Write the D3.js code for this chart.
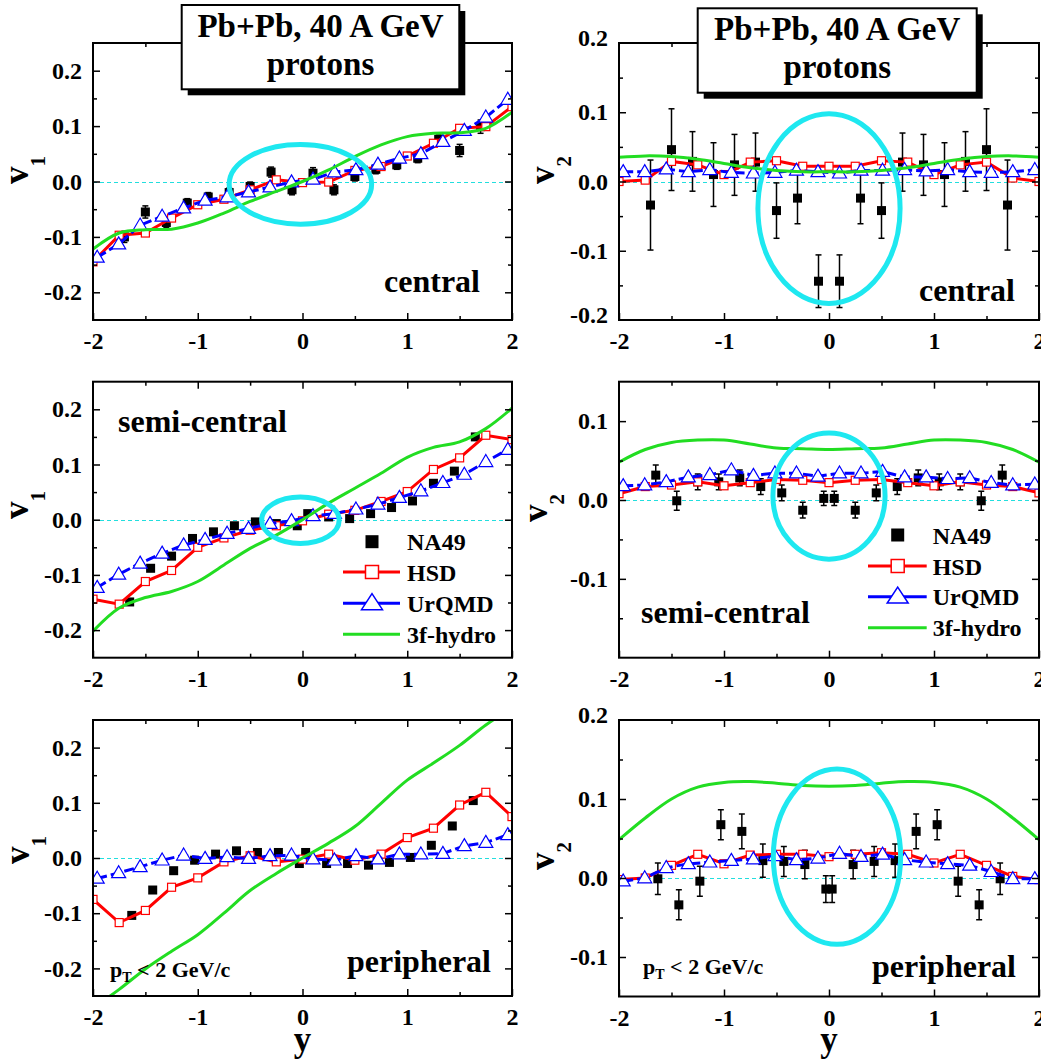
<!DOCTYPE html>
<html><head><meta charset="utf-8">
<script src="https://cdn.jsdelivr.net/npm/d3@7"></script>
<style>
body{margin:0;background:#fff}
svg{display:block}
text{font-family:"Liberation Serif","Times New Roman",serif;font-weight:bold;fill:#000}
</style>
</head><body>
<svg id="c" width="1041" height="1060"></svg>
<script>
// ---------------- data ----------------
const hsdY   = [-2,-1.75,-1.5,-1.25,-1,-0.75,-0.5,-0.25,0,0.25,0.5,0.75,1,1.25,1.5,1.75,2];
const hydroY = [-2,-1.75,-1.5,-1.25,-1,-0.75,-0.5,-0.25,0,0.25,0.5,0.75,1,1.25,1.5,1.75,2];
const urqmdY = [-1.96,-1.755,-1.55,-1.34,-1.135,-0.93,-0.72,-0.515,-0.31,-0.105,0.1,0.305,0.51,0.72,0.925,1.13,1.34,1.545,1.75,1.96];
const na49Y_central = [-1.7,-1.5,-1.3,-1.1,-0.9,-0.7,-0.5,-0.3,-0.1,0.1,0.3,0.5,0.7,0.9,1.1,1.3,1.5,1.7];
const na49Y_semi    = [-1.65,-1.45,-1.25,-1.05,-0.85,-0.65,-0.45,-0.25,-0.05,0.05,0.25,0.45,0.65,0.85,1.05,1.25,1.45,1.65];
const na49Y_peri    = [-1.63,-1.43,-1.23,-1.03,-0.83,-0.63,-0.43,-0.23,-0.03,0.03,0.23,0.43,0.63,0.83,1.03,1.23,1.43,1.63];

// central v1
const na49V1_central  = [-0.100,-0.055,-0.074,-0.039,-0.028,-0.020,-0.009,0.017,-0.015,0.015,-0.015,0.009,0.022,0.030,0.042,0.076,0.056,0.099];
const na49E1_central  = [0.010,0.011,0.009,0.008,0.008,0.008,0.008,0.009,0.009,0.010,0.009,0.008,0.008,0.008,0.008,0.008,0.011,0.012];
const hsdV1_central   = [-0.145,-0.097,-0.093,-0.066,-0.042,-0.032,-0.015,0.003,-0.002,-0.001,0.020,0.027,0.046,0.069,0.096,0.099,0.135];
const urqmdV1_central = [-0.137,-0.113,-0.079,-0.063,-0.048,-0.034,-0.028,-0.019,-0.010,-0.001,0.004,0.017,0.021,0.031,0.042,0.050,0.072,0.092,0.116,0.148];
const hydroV1_central = [-0.122,-0.093,-0.087,-0.086,-0.075,-0.057,-0.036,-0.018,0.0,0.021,0.045,0.066,0.081,0.087,0.088,0.096,0.125];
// central v2
const na49V2_central  = [-0.034,0.046,0.029,0.010,0.024,0.028,-0.042,-0.024,-0.144,-0.144,-0.024,-0.042,0.028,0.024,0.010,0.029,0.046,-0.034];
const na49E2_central  = [0.065,0.059,0.043,0.046,0.044,0.042,0.040,0.037,0.038,0.038,0.037,0.040,0.042,0.044,0.046,0.043,0.059,0.065];
const hsdV2_central   = [0.0,0.002,0.029,0.024,0.010,0.028,0.030,0.022,0.022,0.022,0.030,0.028,0.010,0.024,0.028,0.005,0.0];
const urqmdV2_central = [0.014,0.014,0.018,0.014,0.017,0.013,0.012,0.013,0.016,0.014,0.012,0.016,0.016,0.017,0.015,0.017,0.014,0.013,0.014,0.017];
const hydroV2_central = [0.035,0.037,0.036,0.032,0.026,0.020,0.016,0.014,0.014,0.014,0.016,0.020,0.026,0.032,0.036,0.037,0.035];
// semi-central v1
const na49V1_semi  = [-0.149,-0.088,-0.066,-0.034,-0.022,-0.011,-0.004,-0.007,-0.011,0.011,0.005,0.002,0.011,0.022,0.034,0.066,0.088,0.150];
const na49E1_semi  = [0.004,0.004,0.004,0.004,0.004,0.004,0.004,0.004,0.004,0.004,0.004,0.004,0.004,0.004,0.004,0.004,0.004,0.004];
const hsdV1_semi   = [-0.144,-0.153,-0.112,-0.092,-0.050,-0.033,-0.019,-0.011,-0.002,0.010,0.017,0.033,0.051,0.091,0.112,0.153,0.145];
const urqmdV1_semi = [-0.123,-0.099,-0.079,-0.061,-0.046,-0.036,-0.025,-0.016,-0.007,-0.002,0.007,0.011,0.019,0.028,0.040,0.052,0.067,0.082,0.105,0.127];
const hydroV1_semi = [-0.202,-0.160,-0.141,-0.130,-0.112,-0.082,-0.052,-0.028,0.0,0.030,0.057,0.084,0.113,0.131,0.141,0.165,0.202];
// semi-central v2
const na49V2_semi  = [0.0315,-0.001,0.023,0.023,0.028,0.017,0.009,-0.013,0.002,0.002,-0.013,0.009,0.017,0.028,0.023,0.023,-0.001,0.0315];
const na49E2_semi  = [0.013,0.012,0.010,0.010,0.010,0.010,0.010,0.010,0.009,0.009,0.010,0.010,0.010,0.010,0.010,0.010,0.012,0.013];
const hsdV2_semi   = [0.008,0.017,0.019,0.023,0.018,0.022,0.026,0.025,0.022,0.025,0.026,0.022,0.018,0.023,0.019,0.017,0.009];
const urqmdV2_semi = [0.018,0.019,0.023,0.029,0.032,0.038,0.031,0.034,0.034,0.030,0.034,0.034,0.036,0.029,0.029,0.027,0.028,0.022,0.019,0.020];
const hydroV2_semi = [0.048,0.064,0.073,0.076,0.076,0.071,0.066,0.065,0.064,0.065,0.066,0.071,0.076,0.076,0.073,0.064,0.048];
// peripheral v1
const na49V1_peri  = [-0.104,-0.058,-0.023,-0.004,0.007,0.013,0.010,0.010,-0.010,0.010,-0.010,-0.010,-0.013,-0.008,0.001,0.023,0.058,0.104];
const na49E1_peri  = [0.004,0.004,0.004,0.004,0.004,0.004,0.004,0.004,0.004,0.004,0.004,0.004,0.004,0.004,0.004,0.004,0.004,0.004];
const hsdV1_peri   = [-0.075,-0.117,-0.095,-0.053,-0.036,-0.007,0.004,-0.007,-0.002,0.007,-0.004,0.007,0.037,0.054,0.096,0.119,0.075];
const urqmdV1_peri = [-0.037,-0.027,-0.016,-0.004,0.005,-0.001,0.002,-0.001,0.004,0.005,-0.002,-0.004,0.004,-0.002,0.007,0.007,0.008,0.022,0.028,0.042];
const hydroV1_peri = [-0.272,-0.238,-0.201,-0.169,-0.139,-0.100,-0.059,-0.028,0.0,0.027,0.057,0.099,0.141,0.172,0.204,0.241,0.272];
// peripheral v2
const na49V2_peri  = [-0.001,-0.034,-0.004,0.0675,0.059,0.022,0.021,0.017,-0.014,-0.014,0.017,0.021,0.022,0.059,0.0675,-0.004,-0.034,-0.001];
const na49E2_peri  = [0.020,0.019,0.019,0.019,0.022,0.021,0.019,0.018,0.017,0.017,0.018,0.019,0.021,0.022,0.019,0.019,0.019,0.020];
const hsdV2_peri   = [-0.002,0.0,0.016,0.030,0.018,0.029,0.030,0.030,0.027,0.030,0.032,0.030,0.019,0.030,0.016,0.002,-0.002];
const urqmdV2_peri = [-0.004,0.0,0.013,0.018,0.020,0.022,0.024,0.028,0.023,0.025,0.031,0.027,0.030,0.023,0.020,0.018,0.016,0.008,-0.001,-0.001];
const hydroV2_peri = [0.0485,0.076,0.100,0.115,0.121,0.122,0.120,0.117,0.116,0.117,0.120,0.122,0.121,0.115,0.100,0.076,0.0485];

// highlight ellipses [centre y, centre v, half-width in y, half-height in v]
const ellV1_central = [-0.02,-0.005,0.68,0.072];
const ellV2_central = [0.0,-0.039,0.677,0.137];
const ellV1_semi    = [-0.02,-0.001,0.37,0.042];
const ellV2_semi    = [0.0,0.005,0.534,0.080];
const ellV2_peri    = [0.076,0.027,0.606,0.111];

const xTicks = [-2,-1,0,1,2];
const xMinor = [-1.5,-0.5,0.5,1.5];
const legendNames = ["NA49","HSD","UrQMD","3f-hydro"];

// ---------------- drawing ----------------
const svg = d3.select('#c');
const RED = '#ff0000', BLUE = '#0000ff', GREEN = '#22dd22', CYAN = '#1ee8f0';

const panels = [
  {x0:93,x1:512,y0:43,y1:320,dom:[-0.25,0.25],lab:[-0.2,-0.1,0,0.1,0.2],
   naX:na49Y_central,naV:na49V1_central,naE:na49E1_central,hsd:hsdV1_central,urq:urqmdV1_central,hyd:hydroV1_central,ell:ellV1_central,
   sub:'1',tx:28,ty:170},
  {x0:619,x1:1039,y0:43,y1:320,dom:[-0.2,0.2],lab:[-0.2,-0.1,0,0.1,0.2],
   naX:na49Y_central,naV:na49V2_central,naE:na49E2_central,hsd:hsdV2_central,urq:urqmdV2_central,hyd:hydroV2_central,ell:ellV2_central,
   sub:'2',tx:554,ty:170,edgeShift:true},
  {x0:93,x1:512,y0:381.7,y1:657.7,dom:[-0.25,0.25],lab:[-0.2,-0.1,0,0.1,0.2],
   naX:na49Y_semi,naV:na49V1_semi,naE:na49E1_semi,hsd:hsdV1_semi,urq:urqmdV1_semi,hyd:hydroV1_semi,ell:ellV1_semi,
   sub:'1',tx:28,ty:505,legend:{x0:343,x1:400,xm:372,xt:407,rows:[541.7,572,603.3,634.3]}},
  {x0:619,x1:1039,y0:381.7,y1:657.7,dom:[-0.2,0.15],lab:[-0.1,0,0.1],
   naX:na49Y_semi,naV:na49V2_semi,naE:na49E2_semi,hsd:hsdV2_semi,urq:urqmdV2_semi,hyd:hydroV2_semi,ell:ellV2_semi,
   sub:'2',tx:547,ty:508,legend:{x0:868,x1:926.7,xm:897.7,xt:932.7,rows:[535,566,596.7,627.7]}},
  {x0:93,x1:512,y0:720,y1:996,dom:[-0.25,0.25],lab:[-0.2,-0.1,0,0.1,0.2],
   naX:na49Y_peri,naV:na49V1_peri,naE:na49E1_peri,hsd:hsdV1_peri,urq:urqmdV1_peri,hyd:hydroV1_peri,ell:null,
   sub:'1',tx:29,ty:850,yTitle:true},
  {x0:619,x1:1039,y0:720,y1:996.5,dom:[-0.15,0.2],lab:[-0.1,0,0.1,0.2],
   naX:na49Y_peri,naV:na49V2_peri,naE:na49E2_peri,hsd:hsdV2_peri,urq:urqmdV2_peri,hyd:hydroV2_peri,ell:ellV2_peri,
   sub:'2',tx:554,ty:856,yTitle:true,edgeShift:true}
];

const triPath = (w,h) => `M0,${-h*0.6}L${w/2},${h*0.4}L${-w/2},${h*0.4}Z`;
const FONT = '"Liberation Serif","Times New Roman",serif';

panels.forEach((p,i) => {
  const x = d3.scaleLinear().domain([-2,2]).range([p.x0,p.x1]);
  const y = d3.scaleLinear().domain(p.dom).range([p.y1,p.y0]);
  const g = svg.append('g');
  const clipId = 'clip'+i;
  svg.append('clipPath').attr('id',clipId).append('rect')
    .attr('x',p.x0).attr('y',p.y0).attr('width',p.x1-p.x0).attr('height',p.y1-p.y0);
  const pg = g.append('g').attr('clip-path',`url(#${clipId})`);

  // zero line
  const y0px = Math.round(y(0)) + 0.5;
  pg.append('line').attr('x1',x(-2)).attr('x2',x(2)).attr('y1',y0px).attr('y2',y0px)
    .attr('stroke','#22dede').attr('stroke-width',1).attr('stroke-dasharray','4,3');

  // NA49
  const na = p.naX.map((v,k)=>({x:v,v:p.naV[k],e:p.naE[k]}));
  const eg = pg.append('g');
  na.forEach(d=>{
    eg.append('line').attr('x1',x(d.x)).attr('x2',x(d.x)).attr('y1',y(d.v-d.e)).attr('y2',y(d.v+d.e))
      .attr('stroke','#000').attr('stroke-width',1.5);
    [d.v-d.e,d.v+d.e].forEach(vv=>eg.append('line').attr('x1',x(d.x)-3).attr('x2',x(d.x)+3)
      .attr('y1',y(vv)).attr('y2',y(vv)).attr('stroke','#000').attr('stroke-width',1.5));
  });
  pg.selectAll('rect.na').data(na).join('rect').attr('class','na')
    .attr('x',d=>x(d.x)-4.5).attr('y',d=>y(d.v)-4.5).attr('width',9).attr('height',9).attr('fill','#000');

  // HSD
  const hs = hsdY.map((v,k)=>({x:v,v:p.hsd[k]}));
  pg.append('path').datum(hs).attr('fill','none').attr('stroke',RED).attr('stroke-width',3)
    .attr('d',d3.line().x(d=>x(d.x)).y(d=>y(d.v)));
  pg.selectAll('rect.hsd').data(hs).join('rect').attr('class','hsd')
    .attr('x',d=>x(d.x)-4).attr('y',d=>y(d.v)-4).attr('width',8).attr('height',8)
    .attr('fill','#fff').attr('stroke',RED).attr('stroke-width',1.2);

  // UrQMD
  const uq = urqmdY.map((v,k)=>({x:v,v:p.urq[k]}));
  pg.append('path').datum(uq).attr('fill','none').attr('stroke',BLUE).attr('stroke-width',3)
    .attr('stroke-dasharray','10,4').attr('d',d3.line().x(d=>x(d.x)).y(d=>y(d.v)));
  pg.selectAll('path.uq').data(uq).join('path').attr('class','uq')
    .attr('transform',d=>`translate(${x(d.x)},${y(d.v)})`).attr('d',triPath(14,12))
    .attr('fill','#fff').attr('stroke',BLUE).attr('stroke-width',1.2);

  // hydro
  const hy = hydroY.map((v,k)=>({x:v,v:p.hyd[k]}));
  pg.append('path').datum(hy).attr('fill','none').attr('stroke',GREEN).attr('stroke-width',3)
    .attr('d',d3.line().curve(d3.curveCatmullRom).x(d=>x(d.x)).y(d=>y(d.v)));

  // ellipse
  if (p.ell) {
    const [cx,cy,rx,ry] = p.ell;
    g.append('ellipse').attr('cx',x(cx)).attr('cy',y(cy))
      .attr('rx',x(cx+rx)-x(cx)).attr('ry',y(cy-ry)-y(cy))
      .attr('fill','none').attr('stroke',CYAN).attr('stroke-width',5);
  }

  // frame
  g.append('rect').attr('x',p.x0).attr('y',p.y0).attr('width',p.x1-p.x0).attr('height',p.y1-p.y0)
    .attr('fill','none').attr('stroke','#000').attr('stroke-width',2);

  // axes (inward ticks)
  const yMinor = d3.range(Math.ceil(p.dom[0]/0.05-1e-9),Math.floor(p.dom[1]/0.05+1e-9)+1).map(k=>+(k*0.05).toFixed(2))
    .filter(v=>Math.abs(v-p.dom[0])>1e-6 && Math.abs(v-p.dom[1])>1e-6);
  const yMaj = yMinor.filter(v=>Math.abs(Math.round(v*10)-v*10)<1e-6);
  const yMin = yMinor.filter(v=>!yMaj.includes(v));
  const style = sel => { sel.select('.domain').remove(); sel.selectAll('line').attr('stroke','#000').attr('stroke-width',1.5); };

  const ax = g.append('g').attr('transform',`translate(0,${p.y1})`)
    .call(d3.axisBottom(x).tickValues(xTicks).tickSize(-7).tickPadding(12).tickFormat(d=>String(d)));
  style(ax); ax.selectAll('text').style('font-size','24px').style('font-family',FONT).style('font-weight','bold');
  const axm = g.append('g').attr('transform',`translate(0,${p.y1})`)
    .call(d3.axisBottom(x).tickValues(xMinor).tickSize(-4).tickFormat(''));
  style(axm);
  [xTicks.slice(1,-1),xMinor].forEach((tv,j)=>{
    const at = g.append('g').attr('transform',`translate(0,${p.y0})`)
      .call(d3.axisTop(x).tickValues(tv).tickSize(j?-4:-7).tickFormat(''));
    style(at);
  });

  const ay = g.append('g').attr('transform',`translate(${p.x0},0)`)
    .call(d3.axisLeft(y).tickValues(p.lab).tickSize(-7).tickPadding(11).tickFormat(d=>d.toFixed(1)));
  style(ay); ay.selectAll('text').style('font-size','24px').style('font-family',FONT).style('font-weight','bold');
  if (p.edgeShift) ay.selectAll('.tick').filter(d=>Math.abs(d-p.dom[0])<1e-6||Math.abs(d-p.dom[1])<1e-6)
    .select('text').attr('y',-5);
  ay.selectAll('.tick line').filter(d=>Math.abs(d-p.dom[0])<1e-6||Math.abs(d-p.dom[1])<1e-6).remove();
  const aym = g.append('g').attr('transform',`translate(${p.x0},0)`)
    .call(d3.axisLeft(y).tickValues(yMin).tickSize(-4).tickFormat(''));
  style(aym);
  const ayr = g.append('g').attr('transform',`translate(${p.x1},0)`)
    .call(d3.axisRight(y).tickValues(yMaj).tickSize(-7).tickFormat(''));
  style(ayr);
  const ayrm = g.append('g').attr('transform',`translate(${p.x1},0)`)
    .call(d3.axisRight(y).tickValues(yMin).tickSize(-4).tickFormat(''));
  style(ayrm);

  // y title v_n
  const t = svg.append('text').attr('transform',`translate(${p.tx},${p.ty}) rotate(-90)`)
    .attr('text-anchor','middle').style('font-size','35px');
  t.append('tspan').text('v');
  t.append('tspan').attr('dy',17).style('font-size','21px').text(p.sub);

  if (p.yTitle) {
    svg.append('text').attr('x',(p.x0+p.x1)/2).attr('y',1051).attr('text-anchor','middle')
      .style('font-size','35px').text('y');
  }

  // legend
  if (p.legend) {
    const L = p.legend;
    const lg = svg.append('g');
    lg.append('rect').attr('x',L.xm-6.5).attr('y',L.rows[0]-6.5).attr('width',13).attr('height',13).attr('fill','#000');
    lg.append('line').attr('x1',L.x0).attr('x2',L.x1).attr('y1',L.rows[1]).attr('y2',L.rows[1]).attr('stroke',RED).attr('stroke-width',3);
    lg.append('rect').attr('x',L.xm-6.5).attr('y',L.rows[1]-6.5).attr('width',13).attr('height',13)
      .attr('fill','#fff').attr('stroke',RED).attr('stroke-width',1.5);
    lg.append('line').attr('x1',L.x0).attr('x2',L.x1).attr('y1',L.rows[2]).attr('y2',L.rows[2]).attr('stroke',BLUE).attr('stroke-width',3);
    lg.append('path').attr('transform',`translate(${L.xm},${L.rows[2]})`).attr('d',triPath(21,16))
      .attr('fill','#fff').attr('stroke',BLUE).attr('stroke-width',1.5);
    lg.append('line').attr('x1',L.x0).attr('x2',L.x1).attr('y1',L.rows[3]).attr('y2',L.rows[3]).attr('stroke',GREEN).attr('stroke-width',3);
    legendNames.forEach((n,k)=>lg.append('text').attr('x',L.xt).attr('y',L.rows[k]+8.5).style('font-size','24px').text(n));
  }
});

// panel labels
const labels = [
  ['central',480,292,'end'],['central',1015,301,'end'],
  ['semi-central',118,432,'start'],['semi-central',641,623,'start'],
  ['peripheral',347,972,'start'],['peripheral',872,977,'start']
];
labels.forEach(l=>svg.append('text').attr('x',l[1]).attr('y',l[2]).attr('text-anchor',l[3]).style('font-size','32px').text(l[0]));

// pT cut labels
[[110,977],[643,974]].forEach(([px,py])=>{
  const t = svg.append('text').attr('x',px).attr('y',py).style('font-size','22px');
  t.append('tspan').text('p');
  t.append('tspan').attr('dy',5).style('font-size','14px').text('T');
  t.append('tspan').attr('dy',-5).text(' < 2 GeV/c');
});

// title boxes
[[181.7,5,277.6,84.3],[697.7,8.3,279,84.4]].forEach(([bx,by,bw,bh])=>{
  svg.append('rect').attr('x',bx+6).attr('y',by+6).attr('width',bw).attr('height',bh).attr('fill','#000');
  svg.append('rect').attr('x',bx).attr('y',by).attr('width',bw).attr('height',bh).attr('fill','#fff').attr('stroke','#000').attr('stroke-width',2);
  svg.append('text').attr('x',bx+bw/2).attr('y',by+32).attr('text-anchor','middle').style('font-size','33px').text('Pb+Pb, 40 A GeV');
  svg.append('text').attr('x',bx+bw/2).attr('y',by+70).attr('text-anchor','middle').style('font-size','33px').text('protons');
});
</script>
</body></html>
